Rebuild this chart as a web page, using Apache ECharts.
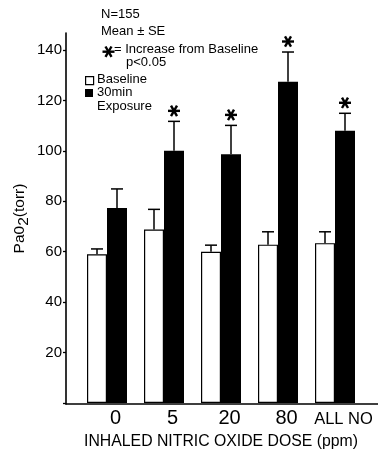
<!DOCTYPE html>
<html>
<head>
<meta charset="utf-8">
<script src="https://cdn.jsdelivr.net/npm/echarts@6/dist/echarts.min.js"></script>
<style>
html,body{margin:0;padding:0;background:#fff;}
#chart{width:378px;height:455px;}
</style>
</head>
<body>
<div id="chart"></div>
<script>
// ---- data ----
var categories = ['0', '5', '20', '80', 'ALL NO'];
var baselineMean = [59, 68.8, 60, 62.8, 63.4];
var baselineSE = [2.1, 8, 2.6, 5.1, 4.5];
var exposureMean = [77.3, 100, 98.7, 127.4, 108];
var exposureSE = [7.6, 11.7, 11.4, 11.8, 6.9];
var significant = [false, true, true, true, true];
var yTicks = [20, 40, 60, 80, 100, 120, 140];

var FONT = 'Liberation Sans, Arial, sans-serif';
var BAR_W = 20;

function errData(means, ses) {
  return means.map(function (m, i) { return [i, m, m + ses[i]]; });
}
var sigData = [];
exposureMean.forEach(function (m, i) {
  if (significant[i]) sigData.push([i, m + exposureSE[i]]);
});

function errRender(offset) {
  return function (params, api) {
    var c0 = api.coord([api.value(0), api.value(1)]);
    var c1 = api.coord([api.value(0), api.value(2)]);
    var x = c0[0] + offset;
    var style = { stroke: '#000', lineWidth: 1.5, fill: null };
    return {
      type: 'group',
      children: [
        { type: 'line', shape: { x1: x, y1: c0[1], x2: x, y2: c1[1] }, style: style },
        { type: 'line', shape: { x1: x - 6, y1: c1[1], x2: x + 6, y2: c1[1] }, style: style }
      ]
    };
  };
}

function asteriskShape(cx, cy, r, lw) {
  var kids = [];
  for (var k = 0; k < 3; k++) {
    var a = k * Math.PI / 3;
    kids.push({
      type: 'line',
      shape: { x1: cx - r * Math.cos(a), y1: cy - r * Math.sin(a), x2: cx + r * Math.cos(a), y2: cy + r * Math.sin(a) },
      style: { stroke: '#000', lineWidth: lw }
    });
  }
  return kids;
}

var chart = echarts.init(document.getElementById('chart'), null, { renderer: 'canvas' });

var option = {
  backgroundColor: '#fff',
  animation: false,
  textStyle: { fontFamily: FONT, color: '#000' },
  grid: [
    { left: 66, right: 0, top: 33, bottom: 51 },
    { left: 78.5, right: 14.5, top: 50, bottom: 51 }
  ],
  xAxis: [
    { gridIndex: 0, type: 'value', min: 0, max: 1,
      axisLine: { show: true, lineStyle: { color: '#000', width: 1.6 } },
      axisTick: { show: false }, axisLabel: { show: false }, splitLine: { show: false } },
    { gridIndex: 1, type: 'category', data: categories,
      axisLine: { show: false }, axisTick: { show: false }, splitLine: { show: false },
      axisLabel: {
        interval: 0, hideOverlap: false,
        margin: 5, color: '#000', fontFamily: FONT, fontSize: 20,
        padding: [0, 0, 0, 17],
        formatter: function (v) { return v === 'ALL NO' ? '{s|ALL NO}' : v; },
        rich: { s: { fontSize: 16.5, fontFamily: FONT, color: '#000', padding: [3, 0, 0, 0] } }
      },
      name: 'INHALED NITRIC OXIDE DOSE (ppm)', nameLocation: 'middle', nameGap: 31,
      nameTextStyle: { fontFamily: FONT, fontSize: 15.8, color: '#000' }
    }
  ],
  yAxis: [
    { gridIndex: 0, type: 'value', min: 0, max: 1,
      axisLine: { show: true, lineStyle: { color: '#000', width: 1.6 } },
      axisTick: { show: false }, axisLabel: { show: false }, splitLine: { show: false },
      name: 'Pa0{sub|2}(torr)', nameLocation: 'middle', nameGap: 34, nameRotate: 90,
      nameTextStyle: {
        fontFamily: FONT, fontSize: 15.5, color: '#000',
        rich: { sub: { fontSize: 15.5, fontFamily: FONT, color: '#000', padding: [8, 0, 0, 0] } }
      }
    },
    { gridIndex: 1, type: 'value', min: 0, max: 140, interval: 20, offset: 12.5,
      axisLine: { show: false },
      axisTick: { show: true, length: 3, lineStyle: { color: '#000', width: 1.3 } },
      splitLine: { show: false },
      axisLabel: {
        margin: 4, color: '#000', fontFamily: FONT, fontSize: 15,
        formatter: function (v) { return yTicks.indexOf(v) >= 0 ? String(v) : ''; }
      }
    }
  ],
  series: [
    { name: 'Baseline', type: 'bar', xAxisIndex: 1, yAxisIndex: 1, data: baselineMean,
      barWidth: BAR_W, barGap: '0%',
      itemStyle: { color: '#fff', borderColor: '#000', borderWidth: 1.2 } },
    { name: '30min Exposure', type: 'bar', xAxisIndex: 1, yAxisIndex: 1, data: exposureMean,
      barWidth: BAR_W, barGap: '0%',
      itemStyle: { color: '#000' } },
    { type: 'custom', xAxisIndex: 1, yAxisIndex: 1, data: errData(baselineMean, baselineSE),
      renderItem: errRender(-BAR_W / 2), z: 1 },
    { type: 'custom', xAxisIndex: 1, yAxisIndex: 1, data: errData(exposureMean, exposureSE),
      renderItem: errRender(BAR_W / 2), z: 1 },
    { type: 'custom', xAxisIndex: 1, yAxisIndex: 1, data: sigData,
      renderItem: function (params, api) {
        var c = api.coord([api.value(0), api.value(1)]);
        return { type: 'group', children: asteriskShape(c[0] + BAR_W / 2, c[1] - 10.5, 6, 2.4) };
      } }
  ],
  graphic: [
    { type: 'text', left: 101, top: 8, style: { text: 'N=155', font: '13px ' + FONT, fill: '#000' } },
    { type: 'text', left: 101, top: 25, style: { text: 'Mean \u00b1 SE', font: '13px ' + FONT, fill: '#000' } },
    { type: 'group', left: 100, top: 44, children: asteriskShape(6, 6, 6, 2.4) },
    { type: 'text', left: 114, top: 43, style: { text: '= Increase from Baseline', font: '13px ' + FONT, fill: '#000' } },
    { type: 'text', left: 126, top: 56, style: { text: 'p<0.05', font: '13px ' + FONT, fill: '#000' } },
    { type: 'rect', left: 85, top: 76, shape: { width: 8, height: 8 }, style: { fill: '#fff', stroke: '#000', lineWidth: 1.2 } },
    { type: 'text', left: 97, top: 73, style: { text: 'Baseline', font: '13px ' + FONT, fill: '#000' } },
    { type: 'rect', left: 85, top: 89, shape: { width: 8, height: 8 }, style: { fill: '#000' } },
    { type: 'text', left: 97, top: 86, style: { text: '30min', font: '13px ' + FONT, fill: '#000' } },
    { type: 'text', left: 97, top: 100, style: { text: 'Exposure', font: '13px ' + FONT, fill: '#000' } }
  ]
};
chart.setOption(option);
</script>
</body>
</html>
